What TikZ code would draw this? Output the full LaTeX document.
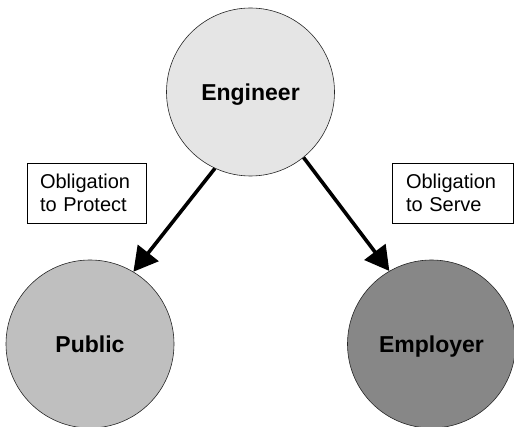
\documentclass[tikz,border=0pt]{standalone}
\usepackage{fontspec}
\setmainfont{Liberation Sans}
\usepackage{tikz}
\usetikzlibrary{arrows.meta}

\begin{document}
\begin{tikzpicture}
[every node/.style={inner sep=0pt},
 party/.style={circle, minimum size=168pt, line width=0.6pt, draw=black!85, text depth=0pt, font=\fontsize{23}{27}\selectfont\bfseries},
 duty/.style={rectangle, draw=black, line width=0.6pt, fill=white, text width=93pt, inner xsep=13pt, minimum height=60pt, align=left, font=\fontsize{20}{23.5}\selectfont},
 duty arrow/.style={line width=3.6pt, color=black, -{Triangle[length=24pt, width=26pt]}}]
\useasboundingbox (0pt, 0pt) rectangle (514pt, -427pt);
\node (eng) [party, fill=black!10] at (250.5pt, -92pt) {Engineer};
\node (pub) [party, fill=black!25] at (90pt, -344pt) {Public};
\node (emp) [party, fill=black!47] at (431.5pt, -344pt) {Employer};
\node (prot) [duty] at (86.5pt, -193pt) {Obligation\\to Protect};
\node (serv) [duty, inner xsep=14pt] at (452.5pt, -193pt) {Obligation\\to Serve};
\draw [duty arrow] (eng.245.8) -- (pub.59.5);
\draw [duty arrow] (eng.309) -- (emp.120.9);
\end{tikzpicture}
\end{document}
